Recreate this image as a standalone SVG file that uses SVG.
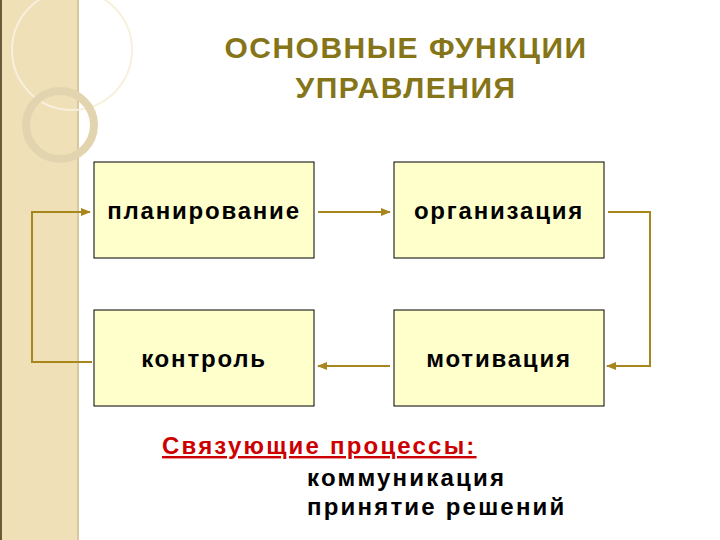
<svg xmlns="http://www.w3.org/2000/svg" width="720" height="540" viewBox="0 0 720 540">
<style>
.box{fill:#ffffcc;stroke:#000;stroke-width:1}
.lbl{font-family:"Liberation Sans",Arial,sans-serif;font-weight:bold;font-size:24px;letter-spacing:1.8px;fill:#000;text-anchor:middle}
.con{fill:none;stroke:#a8861e;stroke-width:2}
</style>
<defs>
<marker id="ah" viewBox="0 0 10 10" refX="9" refY="5" markerWidth="5" markerHeight="5" orient="auto"><path d="M0,1 L10,5 L0,9 z" fill="#a8861e"/></marker>
</defs>
<rect width="720" height="540" fill="#fff"/>
<g id="decor">
<rect x="0" y="0" width="78" height="540" fill="#efe0b8"/>
<rect x="0" y="0" width="2" height="540" fill="#6b5a3a"/>
<line x1="78" y1="0" x2="78" y2="540" stroke="#d8c8a0" stroke-width="2"/>
<circle cx="72" cy="50" r="60" fill="none" stroke="#f8f0dc" stroke-width="2"/>
<circle cx="60" cy="125" r="34" fill="none" stroke="#e2d4ae" stroke-width="8"/>
</g>
<g id="title" font-family="Liberation Sans,Arial,sans-serif" font-weight="bold" font-size="30" letter-spacing="1.5" fill="#857518" text-anchor="middle">
<text x="406" y="58">ОСНОВНЫЕ ФУНКЦИИ</text>
<text x="406" y="98">УПРАВЛЕНИЯ</text>
</g>
<g id="n1"><rect class="box" x="94" y="162" width="220" height="96"/><text class="lbl" x="204" y="219">планирование</text></g>
<g id="n2"><rect class="box" x="394" y="162" width="210" height="96"/><text class="lbl" x="499" y="219">организация</text></g>
<g id="n3"><rect class="box" x="94" y="310" width="220" height="96"/><text class="lbl" x="204" y="367">контроль</text></g>
<g id="n4"><rect class="box" x="394" y="310" width="210" height="96"/><text class="lbl" x="499" y="367">мотивация</text></g>
<g id="connectors">
<path class="con" d="M318,212 H390" marker-end="url(#ah)"/>
<path class="con" d="M608,212 H650 V366 H607" marker-end="url(#ah)"/>
<path class="con" d="M390,366 H318" marker-end="url(#ah)"/>
<path class="con" d="M92,362 H32 V212 H90" marker-end="url(#ah)"/>
</g>
<g id="notes" font-family="Liberation Sans,Arial,sans-serif" font-weight="bold" font-size="24" letter-spacing="2.2">
<text x="162" y="454" fill="#cc0000" text-decoration="underline">Связующие процессы:</text>
<text x="307" y="486" fill="#000">коммуникация</text>
<text x="307" y="515" fill="#000">принятие решений</text>
</g>
</svg>
